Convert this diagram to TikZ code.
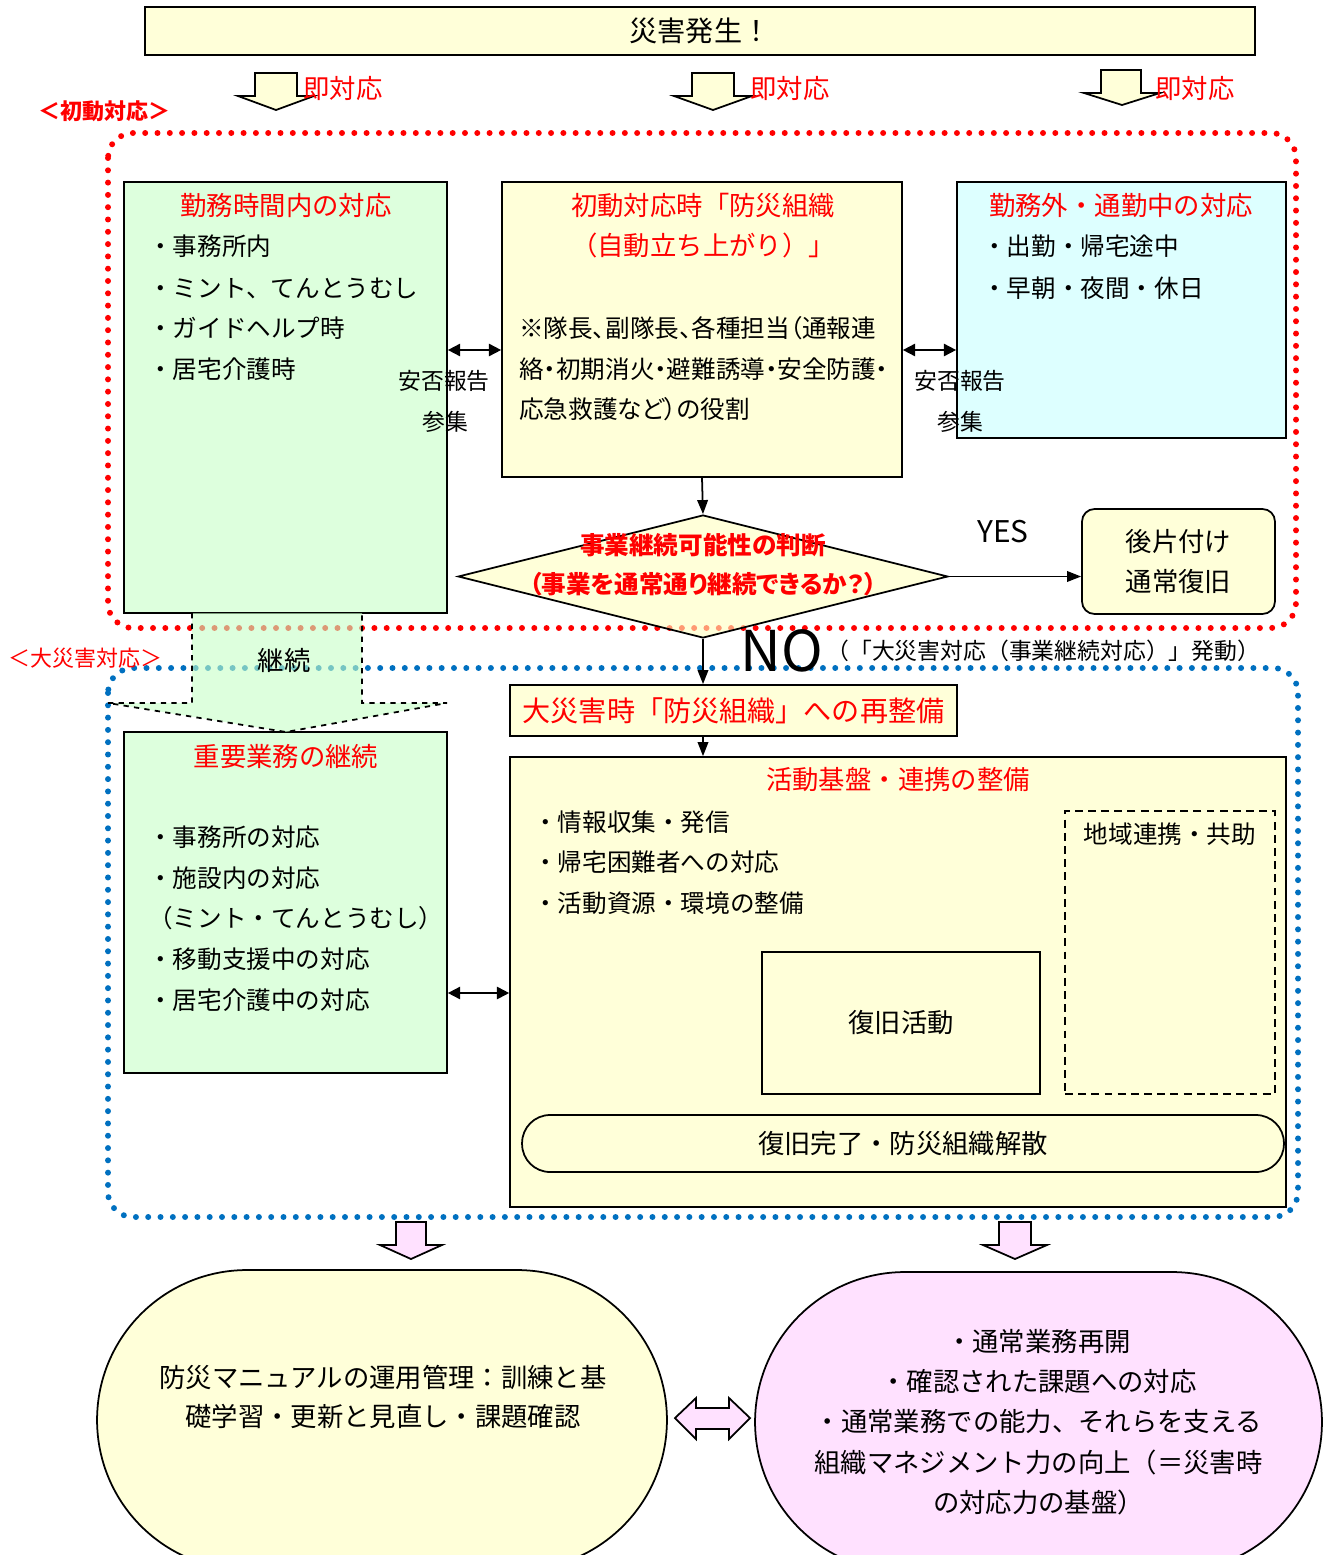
\documentclass[tikz,border=0pt]{standalone}
\usepackage{fontspec}
\setmainfont{Noto Sans CJK JP}
\usetikzlibrary{shapes.geometric,arrows.meta}
\definecolor{lyellow}{HTML}{FFFFD9}
\definecolor{tyellow}{HTML}{FFFFC0}
\definecolor{lgreen}{HTML}{DDFFDD}
\definecolor{tgreen}{HTML}{C6FFC6}
\definecolor{lcyan}{HTML}{DDFFFF}
\definecolor{lpink}{HTML}{FFE1FF}
\definecolor{dotblue}{HTML}{0070C0}
\begin{document}
\begin{tikzpicture}[
        x=0.02cm, y=-0.02cm,
        box/.style={rectangle, draw, line width=1pt, inner sep=0pt},
        yellow_box/.style={box, fill=lyellow},
        green_box/.style={box, fill=lgreen},
        cyan_box/.style={box, fill=lcyan},
        red_title/.style={text=red, font=\fontsize{15}{22.7}\selectfont, align=center, inner sep=0pt},
        red_label/.style={text=red, anchor=west, font=\fontsize{12.5}{15}\selectfont, inner sep=0pt},
        list_item/.style={anchor=west, font=\fontsize{14}{18}\selectfont, inner sep=0pt},
        prop_item/.style={list_item, font=\fontsize{14}{18}\selectfont\addfontfeatures{RawFeature=+palt}},
        side_label/.style={font=\fontsize{13}{16}\selectfont, inner sep=0pt},
        link/.style={line width=1pt, -{Triangle[length=8pt,width=6pt]}},
        both_link/.style={line width=1pt, {Triangle[length=7pt,width=7pt]}-{Triangle[length=7pt,width=7pt]}},
        block_arrow/.style={draw, line width=1pt, fill=lyellow},
        pink_arrow/.style={draw, line width=1pt, fill=lpink},
        frame/.style={line width=3.4pt, dash pattern=on 0pt off 7pt, line cap=round, rounded corners=0.5cm}
    ]
        \useasboundingbox (0,0) rectangle (1323,1555);

        % Disaster occurs
        \node[yellow_box, minimum width=22.2cm, minimum height=0.96cm, font=\fontsize{16}{20}\selectfont] (hassei) at (700,31) {災害発生！};
        \draw[block_arrow] (255,73) -- (297,73) -- (297,96) -- (314,96) -- (276,110) -- (238,96) -- (255,96) -- cycle;
        \draw[block_arrow] (692,73) -- (734,73) -- (734,96) -- (752,96) -- (713,110) -- (674,96) -- (692,96) -- cycle;
        \draw[block_arrow] (1101,70) -- (1141,70) -- (1141,93) -- (1160,93) -- (1122,105) -- (1084,93) -- (1101,93) -- cycle;
        \node[red_label, font=\fontsize{15}{18}\selectfont] (soku1) at (303,88) {即対応};
        \node[red_label, font=\fontsize{15}{18}\selectfont] (soku2) at (750,88) {即対応};
        \node[red_label, font=\fontsize{15}{18}\selectfont] (soku3) at (1155,88) {即対応};

        % Frames
        \draw[frame, red] (108,133) rectangle (1296,628);
        \draw[frame, dotblue] (108,668) rectangle (1298,1217);
        \node[red_label, font=\bfseries\fontsize{12.5}{15}\selectfont] (shodo_label) at (38,111) {＜初動対応＞};
        \node[red_label] (dai_label) at (8,658) {＜大災害対応＞};

        % Initial response: three boxes
        \node[green_box, minimum width=6.46cm, minimum height=8.62cm] (kinmu_in) at (285.5,397.5) {};
        \node[red_title] (kinmu_in_title) at (286,206) {勤務時間内の対応};
        \node[list_item] (in1) at (148,246) {・事務所内};
        \node[list_item] (in2) at (148,288) {・ミント、てんとうむし};
        \node[list_item] (in3) at (148,328) {・ガイドヘルプ時};
        \node[list_item] (in4) at (148,369) {・居宅介護時};

        \node[yellow_box, minimum width=8cm, minimum height=5.9cm] (shodo_org) at (702,329.5) {};
        \node[red_title] (shodo_title) at (703,226) {初動対応時「防災組織\\（自動立ち上がり）」};
        \node[prop_item] (org1) at (519,328) {※隊長、副隊長、各種担当（通報連};
        \node[prop_item] (org2) at (519,369) {絡・初期消火・避難誘導・安全防護・};
        \node[prop_item] (org3) at (519,409) {応急救護など）の役割};

        \node[cyan_box, minimum width=6.58cm, minimum height=5.12cm] (kinmu_out) at (1121.5,310) {};
        \node[red_title] (kinmu_out_title) at (1121,206) {勤務外・通勤中の対応};
        \node[list_item] (out1) at (982,246) {・出勤・帰宅途中};
        \node[list_item] (out2) at (982,288) {・早朝・夜間・休日};

        \draw[both_link] (kinmu_in.east |- 0,350) -- (shodo_org.west |- 0,350);
        \draw[both_link] (shodo_org.east |- 0,350) -- (kinmu_out.west |- 0,350);
        \node[side_label] (anpi1) at (444,381) {安否報告};
        \node[side_label] (sanshu1) at (445,422) {参集};
        \node[side_label] (anpi2) at (960,381) {安否報告};
        \node[side_label] (sanshu2) at (960,422) {参集};

        % Decision
        \node[diamond, draw, line width=1pt, fill=tyellow, fill opacity=0.6, minimum width=9.8cm, minimum height=2.46cm, inner sep=0pt] (judge) at (703,576.5) {};
        \node[text=red, font=\bfseries\fontsize{14}{22}\selectfont\addfontfeatures{RawFeature=+palt}, align=center, inner sep=0pt] (judge_text) at (703,564.5) {事業継続可能性の判断\\（事業を通常通り継続できるか？）};
        \draw[link] (shodo_org.south) -- (judge.north);

        \node[yellow_box, rounded corners=0.25cm, minimum width=3.86cm, minimum height=2.1cm, align=center, font=\fontsize{15}{23.2}\selectfont] (cleanup) at (1178.5,561.5) {後片付け\\通常復旧};
        \draw[link] (judge.east) -- (judge.east -| cleanup.west);
        \node[font=\fontsize{17}{20}\selectfont] (yes_label) at (1003,532) {YES};

        \node[font=\fontsize{32}{36}\selectfont, inner sep=0pt] (no_label) at (782,651) {NO};
        \node[side_label, anchor=west] (no_note) at (826,651) {（「大災害対応（事業継続対応）」発動）};

        % Large disaster response
        \node[yellow_box, minimum width=8.94cm, minimum height=1.02cm, text=red, font=\fontsize{16}{20}\selectfont] (saiseibi) at (733.5,710.5) {大災害時「防災組織」への再整備};
        \draw[link] (judge.south) -- (saiseibi.north -| judge.south);

        \node[yellow_box, minimum width=15.52cm, minimum height=9cm] (kiban) at (898,982) {};
        \draw[link] (saiseibi.south -| judge.south) -- (kiban.north -| judge.south);
        \node[red_title] (kiban_title) at (898,780) {活動基盤・連携の整備};
        \node[list_item] (kb1) at (533,822) {・情報収集・発信};
        \node[list_item] (kb2) at (533,862) {・帰宅困難者への対応};
        \node[list_item] (kb3) at (533,903) {・活動資源・環境の整備};

        \node[box, dash pattern=on 4.5pt off 3pt, minimum width=4.2cm, minimum height=5.66cm] (chiiki) at (1170,952.5) {};
        \node[list_item, anchor=center] (chiiki_text) at (1170,834) {地域連携・共助};
        \node[box, minimum width=5.56cm, minimum height=2.84cm, font=\fontsize{15}{18}\selectfont] (fukkyu) at (901,1023) {復旧活動};
        \node[yellow_box, rounded corners=0.56cm, minimum width=15.24cm, minimum height=1.14cm, font=\fontsize{15}{18}\selectfont] (kaisan) at (903,1143.5) {復旧完了・防災組織解散};

        \node[green_box, minimum width=6.46cm, minimum height=6.82cm] (juyo) at (285.5,902.5) {};
        \node[red_title] (juyo_title) at (286,756) {重要業務の継続};
        \node[list_item] (jy1) at (148,837) {・事務所の対応};
        \node[list_item] (jy2) at (148,878) {・施設内の対応};
        \node[list_item] (jy3) at (148,918) {（ミント・てんとうむし）};
        \node[list_item] (jy4) at (148,959) {・移動支援中の対応};
        \node[list_item] (jy5) at (148,1000) {・居宅介護中の対応};
        \draw[both_link] (juyo.east |- 0,993) -- (kiban.west |- 0,993);

        % Continue arrow
        \fill[tgreen, fill opacity=0.6] (192,613) -- (192,703) -- (108,703) -- (286,732) -- (447,703) -- (362,703) -- (362,613) -- cycle;
        \draw[line width=1pt, dashed] (192,613) -- (192,703) -- (108,703) -- (286,732) -- (447,703) -- (362,703) -- (362,613);
        \node[font=\fontsize{15}{18}\selectfont] (keizoku_label) at (284,660) {継続};

        % After recovery
        \draw[pink_arrow] (396,1222) -- (426,1222) -- (426,1245) -- (442,1245) -- (411,1259) -- (380,1245) -- (396,1245) -- cycle;
        \draw[pink_arrow] (999,1222) -- (1031,1222) -- (1031,1245) -- (1047,1245) -- (1015,1259) -- (983,1245) -- (999,1245) -- cycle;

        \node[yellow_box, rounded corners=3cm, minimum width=11.4cm, minimum height=6cm] (manual) at (382,1420) {};
        \node[align=center, font=\fontsize{15}{22.7}\selectfont] (manual_text) at (383,1397) {防災マニュアルの運用管理：訓練と基\\礎学習・更新と見直し・課題確認};
        \node[box, fill=lpink, rounded corners=3cm, minimum width=11.34cm, minimum height=6cm, align=center, font=\fontsize{15}{22.9}\selectfont] (normal) at (1038.5,1422) {・通常業務再開\\・確認された課題への対応\\・通常業務での能力、それらを支える\\組織マネジメント力の向上（＝災害時\\の対応力の基盤）};
        \draw[pink_arrow] (675,1418) -- (696,1398) -- (696,1408) -- (729,1408) -- (729,1398) -- (750,1418) -- (729,1439) -- (729,1429) -- (696,1429) -- (696,1439) -- cycle;

    \end{tikzpicture}
\end{document}
